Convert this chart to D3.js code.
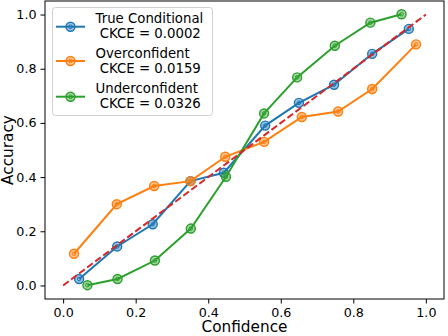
<!DOCTYPE html>
<html>
<head>
<meta charset="utf-8">
<script src="https://cdn.jsdelivr.net/npm/d3@7"></script>
<style>
  body { margin: 0; background: #fff; }
  text { font-family: "DejaVu Sans", sans-serif; }
</style>
</head>
<body>
<svg id="chart"></svg>
<script>
// series
const seriesNames = ["True Conditional", "Overconfident", "Underconfident"];
const ckce = ["0.0002", "0.0159", "0.0326"];
const colors = ["#1f77b4", "#ff7f0e", "#2ca02c"];

const trueX = [0.044, 0.149, 0.247, 0.351, 0.443, 0.557, 0.650, 0.747, 0.852, 0.953];
const trueY = [0.024, 0.144, 0.226, 0.385, 0.416, 0.590, 0.674, 0.741, 0.855, 0.947];
const overX = [0.030, 0.148, 0.251, 0.351, 0.447, 0.554, 0.658, 0.758, 0.852, 0.973];
const overY = [0.117, 0.300, 0.367, 0.385, 0.475, 0.530, 0.622, 0.642, 0.725, 0.890];
const underX = [0.067, 0.150, 0.253, 0.352, 0.449, 0.554, 0.645, 0.749, 0.847, 0.933];
const underY = [0.001, 0.024, 0.092, 0.210, 0.401, 0.635, 0.768, 0.885, 0.970, 1.001];

const ticks = [0, 0.2, 0.4, 0.6, 0.8, 1.0];

const width = 448, height = 336;
const margin = { top: 1, right: 4, bottom: 37, left: 45 };

const svg = d3.select("#chart").attr("width", width).attr("height", height);

const x = d3.scaleLinear().domain([-0.05, 1.05])
    .range([margin.left, width - margin.right]);
const y = d3.scaleLinear().domain([-0.05, 1.05])
    .range([height - margin.bottom, margin.top]);

// axes
svg.append("g")
    .attr("transform", `translate(0, ${height - margin.bottom})`)
    .call(d3.axisBottom(x).tickValues(ticks).tickFormat(d3.format(".1f")).tickSize(4.5).tickPadding(4))
    .call(g => g.selectAll("text").attr("font-size", 12.7).attr("fill", "#000"));
svg.append("g")
    .attr("transform", `translate(${margin.left}, 0)`)
    .call(d3.axisLeft(y).tickValues(ticks).tickFormat(d3.format(".1f")).tickSize(4.5).tickPadding(4))
    .call(g => g.selectAll("text").attr("font-size", 12.7).attr("fill", "#000"));
svg.selectAll(".domain").remove();
svg.selectAll(".tick line").attr("stroke", "#000").attr("stroke-width", 1);

// frame
svg.append("rect")
    .attr("x", margin.left).attr("y", margin.top)
    .attr("width", width - margin.left - margin.right)
    .attr("height", height - margin.top - margin.bottom)
    .attr("fill", "none").attr("stroke", "#000").attr("stroke-width", 1);

svg.append("text")
    .attr("x", (margin.left + width - margin.right) / 2).attr("y", 332)
    .attr("text-anchor", "middle").attr("font-size", 15.3).text("Confidence");
svg.append("text")
    .attr("transform", `translate(13, ${(margin.top + height - margin.bottom) / 2}) rotate(-90)`)
    .attr("text-anchor", "middle").attr("font-size", 15.3).text("Accuracy");

const line = d3.line().x(d => x(d[0])).y(d => y(d[1]));
const series = [
    d3.zip(trueX, trueY),
    d3.zip(overX, overY),
    d3.zip(underX, underY)
];

function marker(g, cx, cy, c) {
    g.append("circle").attr("cx", cx).attr("cy", cy).attr("r", 4.5)
        .attr("fill", c).attr("fill-opacity", 0.45).attr("stroke", c).attr("stroke-width", 1.4);
    g.append("circle").attr("cx", cx).attr("cy", cy).attr("r", 1.8)
        .attr("fill", "none").attr("stroke", c).attr("stroke-width", 1);
}

series.forEach((s, i) => {
    const g = svg.append("g");
    g.append("path").datum(s).attr("d", line)
        .attr("fill", "none").attr("stroke", colors[i]).attr("stroke-width", 2);
    s.forEach(d => marker(g, x(d[0]), y(d[1]), colors[i]));
});

// perfect calibration diagonal
svg.append("path").datum([[0, 0], [1, 1]]).attr("d", line)
    .attr("fill", "none").attr("stroke", "#d62728").attr("stroke-width", 2)
    .attr("stroke-dasharray", "7,3");

// legend
const lg = svg.append("g");
lg.append("rect").attr("x", 52.5).attr("y", 7.5).attr("width", 160).attr("height", 108)
    .attr("rx", 3).attr("fill", "#fff").attr("fill-opacity", 0.8)
    .attr("stroke", "#d0d0d0").attr("stroke-width", 1);
const rowY = [26.7, 61, 96.7];
seriesNames.forEach((name, i) => {
    const cy = rowY[i];
    lg.append("line").attr("x1", 56).attr("x2", 85).attr("y1", cy).attr("y2", cy)
        .attr("stroke", colors[i]).attr("stroke-width", 2);
    marker(lg, 70.5, cy, colors[i]);
    const t = lg.append("text").attr("font-size", 13.3).attr("fill", "#000");
    t.append("tspan").attr("x", 95.5).attr("y", cy - 3.5).text(name);
    t.append("tspan").attr("x", 95.5).attr("y", cy + 11.5)
        .attr("xml:space", "preserve").text("\u00a0CKCE = " + ckce[i]);
});
</script>
</body>
</html>
